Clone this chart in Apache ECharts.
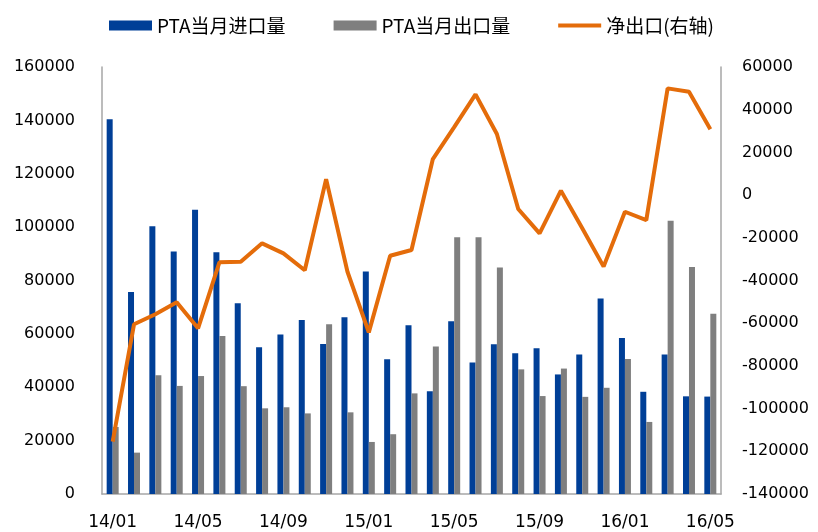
<!DOCTYPE html>
<html>
<head>
<meta charset="utf-8">
<script src="https://cdn.jsdelivr.net/npm/echarts@6/dist/echarts.min.js"></script>
<style>
  html, body { margin: 0; padding: 0; background: #fff; }
  #chart { width: 818px; height: 532px; }
</style>
</head>
<body>
<div id="chart"></div>
<script>
// 月份
const months = [
  '14/01', '14/02', '14/03', '14/04', '14/05', '14/06', '14/07', '14/08', '14/09', '14/10',
  '14/11', '14/12', '15/01', '15/02', '15/03', '15/04', '15/05', '15/06', '15/07', '15/08',
  '15/09', '15/10', '15/11', '15/12', '16/01', '16/02', '16/03', '16/04', '16/05'
];
// PTA当月进口量
const importData = [
  140400, 75700, 100300, 90900, 106500, 90600, 71500, 55000, 59800, 65200,
  56200, 66200, 83400, 50500, 63200, 38500, 64700, 49300, 56100, 52700,
  54600, 44800, 52300, 73300, 58500, 38300, 52300, 36600, 36500
];
// PTA当月出口量
const exportData = [
  25100, 15500, 44500, 40500, 44200, 59200, 40400, 32100, 32500, 30200,
  63600, 30600, 19500, 22400, 37700, 55300, 96200, 96200, 84900, 46700,
  36700, 47000, 36400, 39800, 50600, 27000, 102400, 85100, 67500
];
// 净出口(右轴)
const netData = [
  -115500, -60500, -55800, -50200, -62400, -31500, -31200, -22600, -27300, -35200,
  7500, -35900, -64300, -28400, -25700, 16900, 31800, 47200, 28600, -6500,
  -17900, 2100, -15500, -33500, -7800, -11700, 50000, 48400, 30800
];

const chart = echarts.init(document.getElementById('chart'));
const labelFont = 'DejaVu Sans';
const axisGray = '#A6A6A6';
const plain = (v) => String(v);

chart.setOption({
  animation: false,
  textStyle: { fontFamily: labelFont },
  legend: {
    left: 104,
    top: 11,
    itemWidth: 43,
    itemHeight: 10,
    itemGap: 48,
    textStyle: { fontFamily: 'Noto Sans CJK SC', fontSize: 19, color: '#000' },
    data: [
      { name: 'PTA当月进口量', icon: 'rect' },
      { name: 'PTA当月出口量', icon: 'rect' },
      { name: '净出口(右轴)', icon: 'path://M0,0H43V4H0Z' }
    ]
  },
  grid: { left: 102, right: 97, top: 67, bottom: 38 },
  xAxis: {
    type: 'category',
    data: months,
    axisTick: { show: false },
    axisLine: { lineStyle: { color: axisGray, width: 1.5 } },
    axisLabel: { interval: 3, fontSize: 17, color: '#000', margin: 20 }
  },
  yAxis: [
    {
      type: 'value',
      min: 0,
      max: 160000,
      interval: 20000,
      splitLine: { show: false },
      axisLine: { show: true, lineStyle: { color: axisGray, width: 1.5 } },
      axisLabel: { fontSize: 16, color: '#000', margin: 27, formatter: plain }
    },
    {
      type: 'value',
      min: -140000,
      max: 60000,
      interval: 20000,
      splitLine: { show: false },
      axisLine: { show: true, lineStyle: { color: axisGray, width: 1.5 } },
      axisLabel: { fontSize: 16, color: '#000', margin: 21, formatter: plain }
    }
  ],
  series: [
    {
      name: 'PTA当月进口量',
      type: 'bar',
      data: importData,
      barWidth: 6,
      barGap: '0%',
      itemStyle: { color: '#003F97' }
    },
    {
      name: 'PTA当月出口量',
      type: 'bar',
      data: exportData,
      barWidth: 6,
      itemStyle: { color: '#7F7F7F' }
    },
    {
      name: '净出口(右轴)',
      type: 'line',
      yAxisIndex: 1,
      data: netData,
      symbol: 'none',
      lineStyle: { color: '#E46C0A', width: 4 },
      itemStyle: { color: '#E46C0A' },
      z: 5
    }
  ]
});
</script>
</body>
</html>
